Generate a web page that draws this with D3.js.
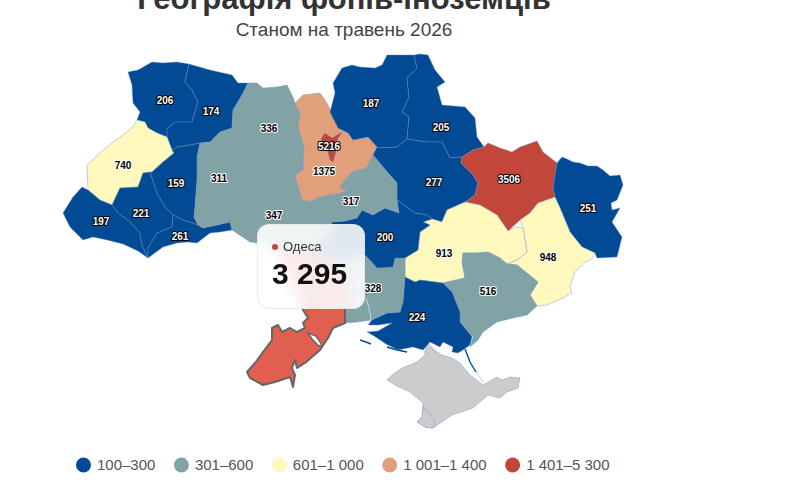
<!DOCTYPE html>
<html>
<head>
<meta charset="utf-8">
<script src="https://cdn.jsdelivr.net/npm/d3@7"></script>
<style>
html, body { margin: 0; padding: 0; background: #fff; overflow: hidden; }
body { font-family: "Liberation Sans", Arial, sans-serif; }
#chart { position: relative; width: 800px; height: 500px; overflow: hidden; }
#tip {
    position: absolute; left: 257px; top: 224px; width: 106px; height: 83px;
    border: 1px solid rgba(230,230,230,0.8); border-radius: 12px;
    background: rgba(255,255,255,0.88);
    -webkit-backdrop-filter: blur(6px); backdrop-filter: blur(6px);
}
#tip .dot { position: absolute; left: 14px; top: 19px; width: 6px; height: 6px; border-radius: 50%; }
#tip .name { position: absolute; left: 25px; top: 14px; font-size: 13px; line-height: 16px; color: #333; }
#tip .val { position: absolute; left: 14px; top: 31px; font-size: 30px; line-height: 36px; font-weight: bold; color: #111; white-space: nowrap; }
</style>
</head>
<body>
<div id="chart"><svg id="map" width="800" height="500"></svg>
<div id="tip"><span class="dot"></span><span class="name"></span><span class="val"></span></div>
</div>
<script>
var titleText = "Географія фопів-іноземців";
var subtitleText = "Станом на травень 2026";

var classLabels = ["100–300", "301–600", "601–1 000", "1 001–1 400", "1 401–5 300"];
var classMax = [300, 600, 1000, 1400, 5300];
var classColors = ["#024b94", "#82a3a5", "#fff9bd", "#e2a07a", "#c3463a"];

var regionNames = ["Волинська", "Рівненська", "Львівська", "Закарпатська", "Івано-Франківська", "Тернопільська", "Чернівецька",
    "Хмельницька", "Житомирська", "Вінницька", "Київська", "Чернігівська", "Сумська", "Полтавська", "Харківська", "Луганська",
    "Донецька", "Дніпропетровська", "Запорізька", "Херсонська", "Миколаївська", "Кіровоградська", "Черкаська", "Київ", "Одеса"];
var regionValues = [206, 174, 740, 197, 221, 159, 261, 311, 336, 347, 1375, 187, 205, 277, 3506, 251, 948, 913, 516, 224, 328, 200, 317, 5216, 3295];

// outlines in map units
var regionShapes = [
    [[152,62],[163,63],[177,62],[189,64],[185,82],[192,90],[198,102],[192,122],[175,122],[167,129],[167,137],[157,133],[148,128],[145,122],[137,120],[140,112],[133,103],[132,85],[128,72],[138,70]],
    [[189,64],[210,70],[232,75],[238,83],[248,83],[242,95],[233,110],[232,128],[220,132],[210,142],[200,143],[190,145],[177,147],[172,150],[167,137],[167,129],[175,122],[192,122],[198,102],[192,90],[185,82]],
    [[137,120],[145,122],[148,128],[157,133],[167,137],[172,150],[174,153],[163,162],[152,172],[143,173],[138,187],[120,188],[112,205],[100,200],[88,190],[87,165],[103,150],[120,137],[132,128]],
    [[82,187],[88,190],[100,200],[112,205],[118,213],[130,222],[140,233],[142,245],[148,258],[138,251],[123,244],[107,240],[93,237],[83,240],[70,227],[63,213],[73,197]],
    [[112,205],[120,188],[138,187],[143,173],[150,172],[157,193],[165,207],[173,215],[172,227],[157,233],[148,248],[148,258],[142,245],[140,233],[130,222],[118,213]],
    [[172,150],[177,147],[190,145],[200,143],[197,157],[197,180],[195,207],[194,217],[198,225],[183,220],[173,215],[165,207],[157,193],[150,172],[152,172],[163,162],[174,153]],
    [[173,215],[183,220],[198,225],[203,228],[217,225],[230,222],[232,230],[220,232],[210,233],[197,243],[188,242],[177,243],[163,247],[148,258],[148,248],[157,233],[172,227]],
    [[200,143],[210,142],[220,132],[232,128],[242,147],[238,163],[247,172],[242,187],[232,203],[230,222],[217,225],[203,228],[198,225],[194,217],[195,207],[197,180],[197,157]],
    [[248,83],[257,83],[263,88],[277,87],[287,85],[293,97],[295,103],[300,113],[298,127],[304,147],[303,170],[295,175],[297,183],[283,180],[280,167],[247,172],[238,163],[242,147],[232,128],[233,110],[242,95]],
    [[247,172],[280,167],[283,180],[297,183],[302,200],[300,217],[320,220],[332,222],[330,235],[318,245],[300,250],[290,246],[275,248],[257,243],[250,242],[232,230],[230,222],[232,203],[242,187]],
    [[295,103],[303,95],[320,93],[327,103],[333,115],[338,128],[348,133],[353,140],[368,137],[377,147],[373,155],[367,168],[352,172],[345,180],[340,188],[348,190],[342,193],[320,197],[310,202],[302,200],[297,183],[295,175],[303,170],[304,147],[298,127],[300,113]],
    [[338,128],[330,112],[335,93],[333,83],[342,68],[352,65],[360,67],[375,68],[382,65],[387,55],[407,55],[414,55],[417,68],[407,78],[409,97],[402,112],[409,117],[407,139],[397,147],[378,148],[377,147],[368,137],[353,140],[348,133]],
    [[414,55],[420,54],[428,55],[435,70],[445,82],[437,87],[442,105],[465,107],[475,118],[477,137],[484,147],[473,150],[462,157],[450,158],[442,142],[427,142],[407,139],[409,117],[402,112],[409,97],[407,78],[417,68]],
    [[377,147],[378,148],[397,147],[407,139],[427,142],[442,142],[450,158],[462,157],[461,163],[473,175],[478,183],[475,195],[465,202],[447,210],[442,222],[432,219],[427,215],[415,213],[397,200],[397,183],[388,173],[373,155]],
    [[462,157],[473,150],[484,147],[488,143],[500,148],[512,152],[520,147],[537,141],[543,152],[557,163],[553,187],[555,197],[538,203],[530,213],[520,220],[508,231],[497,215],[480,205],[465,202],[475,195],[478,183],[473,175],[461,163]],
    [[557,163],[562,157],[567,159],[573,162],[580,163],[588,166],[597,166],[603,170],[610,176],[620,175],[623,185],[617,200],[611,203],[612,210],[620,208],[612,222],[622,237],[617,257],[597,258],[595,253],[582,247],[570,232],[560,208],[555,197],[553,187]],
    [[555,197],[560,208],[570,232],[582,247],[595,253],[592,259],[585,262],[575,272],[570,287],[572,293],[563,298],[547,305],[537,306],[530,295],[538,282],[517,265],[507,264],[517,260],[527,252],[523,228],[520,220],[530,213],[538,203]],
    [[465,202],[480,205],[497,215],[508,231],[515,227],[523,228],[527,252],[517,260],[507,264],[500,258],[488,252],[477,253],[463,253],[462,262],[465,278],[443,283],[420,280],[415,282],[405,277],[405,258],[418,250],[420,232],[430,225],[423,222],[432,219],[442,222],[447,210]],
    [[463,253],[477,253],[488,252],[500,258],[507,264],[517,265],[538,282],[530,295],[537,306],[527,315],[513,318],[497,322],[483,332],[478,340],[470,347],[474,334],[472,337],[460,322],[460,312],[452,292],[443,283],[465,278],[462,262]],
    [[405,277],[415,282],[420,280],[443,283],[452,292],[460,312],[460,322],[472,337],[470,345],[463,350],[458,353],[452,352],[453,347],[443,342],[440,347],[430,342],[423,350],[413,347],[398,350],[386,344],[374,336],[367,332],[378,331],[392,323],[378,325],[368,325],[372,320],[387,313],[400,312],[403,302]],
    [[405,258],[405,277],[403,302],[400,312],[387,313],[372,320],[357,322],[345,323],[345,308],[348,290],[342,275],[335,262],[352,258],[365,255],[370,260],[377,268],[393,267],[395,258]],
    [[332,222],[345,221],[357,218],[362,210],[373,215],[385,208],[399,213],[397,200],[415,213],[427,215],[432,219],[423,222],[430,225],[420,232],[418,250],[405,258],[395,258],[393,267],[377,268],[370,260],[365,255],[352,258],[335,262],[320,255],[300,250],[318,245],[330,235]],
    [[373,155],[388,173],[397,183],[397,200],[399,213],[385,208],[373,215],[362,210],[357,218],[345,221],[332,222],[320,220],[300,217],[302,200],[310,202],[320,197],[342,193],[348,190],[340,188],[345,180],[352,172],[367,168]],
    [[325,133],[332,138],[342,132],[337,140],[337,148],[333,162],[330,160],[327,148],[320,145],[322,137]],
    [[275,248],[290,246],[300,250],[320,255],[335,262],[342,275],[348,290],[345,308],[345,323],[333,328],[328,338],[320,350],[305,363],[297,368],[295,360],[292,368],[295,375],[293,387],[290,377],[275,382],[263,385],[250,378],[247,372],[255,363],[263,352],[272,340],[272,328],[278,325],[282,332],[290,328],[297,332],[305,328],[303,323],[308,318],[303,310],[298,295],[290,280],[282,262]]
];
var labelSpots = [[165,100],[211,111],[123,165],[101,221],[141,213],[176,183],[180,236],[219,178],[269,128],[274,215],[324,171],[371,103],[441,127],[434,182],[509,179],[588,208],[548,257],[444,253],[488,291],[417,317],[373,288],[385,237],[351,201],[329,146],[315,293]];

// no-data land
var crimeaShape = [[427,343],[437,352],[442,355],[452,358],[460,363],[470,375],[483,385],[497,377],[502,380],[510,377],[520,378],[518,388],[507,392],[500,398],[488,395],[473,408],[452,415],[433,428],[425,427],[417,422],[422,417],[423,403],[410,392],[395,385],[387,380],[392,375],[402,368],[417,362],[425,355],[425,347]];
var sevastopolShape = [[417,422],[422,417],[423,407],[428,412],[435,422],[433,428],[425,427]];
var limanShape = [[308,333],[316,336],[322,345],[319,346],[312,339]];
var spitLines = [[[465,349],[470,362],[476,372]], [[387,347],[397,350],[407,352]], [[360,340],[366,342],[371,344]]];
var arabatLine = [[476,372],[485,385]];
var bugLine = [[366,298],[369,308],[371,318],[368,325]];

var highlighted = "Одеса";

function polyFeature(ring){
    return {type: "Polygon", coordinates: [ring.concat([ring[0]])]};
}
function lineFeature(pts){
    return {type: "LineString", coordinates: pts};
}
function classOf(v){
    for(var i = 0; i < classMax.length; i++)
        if(v <= classMax[i]) return i;
    return classMax.length - 1;
}

var svg = d3.select("#map");
var geoPath = d3.geoPath(d3.geoIdentity());
var color = d3.scaleOrdinal().domain(d3.range(classLabels.length)).range(classColors);

var borderColor = "rgba(100,140,200,0.4)";

svg.append("path").datum(polyFeature(crimeaShape))
    .attr("d", geoPath).attr("fill", "#cccccc").attr("stroke", borderColor).attr("stroke-width", 1);
svg.append("path").datum(polyFeature(sevastopolShape))
    .attr("d", geoPath).attr("fill", "#cccccc").attr("stroke", borderColor).attr("stroke-width", 1);

svg.selectAll(".spit").data(spitLines).enter().append("path")
    .attr("class", "spit")
    .attr("d", function(d){ return geoPath(lineFeature(d)) })
    .attr("fill", "none").attr("stroke", classColors[0]).attr("stroke-width", 1.4);
svg.append("path").datum(lineFeature(arabatLine))
    .attr("d", geoPath).attr("fill", "none").attr("stroke", borderColor).attr("stroke-width", 1);

var regions = regionNames.map(function(n, i){
    return {name: n, value: regionValues[i], shape: regionShapes[i], spot: labelSpots[i]};
});

svg.selectAll(".region").data(regions).enter().append("path")
    .attr("class", "region")
    .attr("d", function(d){ return geoPath(polyFeature(d.shape)) })
    .attr("fill", function(d){
        if(d.name == highlighted) return "#e05f50";
        return color(classOf(d.value));
    })
    .attr("stroke", borderColor)
    .attr("stroke-width", 1)
    .attr("stroke-linejoin", "round");

svg.append("path").datum(lineFeature(bugLine))
    .attr("d", geoPath).attr("fill", "none").attr("stroke", "#c9d8e8").attr("stroke-width", 1);

// hover state of the active region goes on top
svg.selectAll(".region").filter(function(d){ return d.name == highlighted })
    .raise()
    .attr("stroke", "#666666")
    .attr("stroke-width", 2);
svg.append("path").datum(polyFeature(limanShape))
    .attr("d", geoPath).attr("fill", "#fff").attr("stroke", "#666666").attr("stroke-width", 1.4);

function labelIsDark(d){
    var c = classOf(d.value);
    return c == 1 || c == 2 || c == 3;
}
svg.selectAll(".lbl").data(regions).enter().append("text")
    .attr("class", "lbl")
    .attr("x", function(d){ return d.spot[0] })
    .attr("y", function(d){ return d.spot[1] })
    .attr("text-anchor", "middle")
    .attr("dy", "0.35em")
    .style("font-size", "10px")
    .style("font-weight", "bold")
    .style("paint-order", "stroke")
    .attr("stroke-width", 2)
    .attr("stroke-linejoin", "round")
    .attr("fill", function(d){ return labelIsDark(d) ? "#000" : "#fff" })
    .attr("stroke", function(d){ return labelIsDark(d) ? "#fff" : "#000" })
    .text(function(d){ return d.value });

svg.append("text").attr("x", 344).attr("y", 9)
    .attr("text-anchor", "middle")
    .style("font-size", "31px").style("font-weight", "bold").attr("fill", "#333")
    .text(titleText);
svg.append("text").attr("x", 344).attr("y", 36)
    .attr("text-anchor", "middle")
    .style("font-size", "19px").attr("fill", "#444")
    .text(subtitleText);

// legend, laid out left to right
var legendX = 76;
classLabels.forEach(function(lab, i){
    svg.append("circle").attr("cx", legendX + 7.5).attr("cy", 465).attr("r", 7.5).attr("fill", classColors[i]);
    var t = svg.append("text").attr("x", legendX + 21).attr("y", 470)
        .style("font-size", "15px").attr("fill", "#555").text(lab);
    legendX = legendX + 21 + t.node().getComputedTextLength() + 18.5;
});

// tooltip
var active = regions.filter(function(d){ return d.name == highlighted })[0];
d3.select("#tip .dot").style("background", classColors[classOf(active.value)]);
d3.select("#tip .name").text(active.name);
d3.select("#tip .val").text(d3.format(",")(active.value).replace(",", " "));
</script>
</body>
</html>
